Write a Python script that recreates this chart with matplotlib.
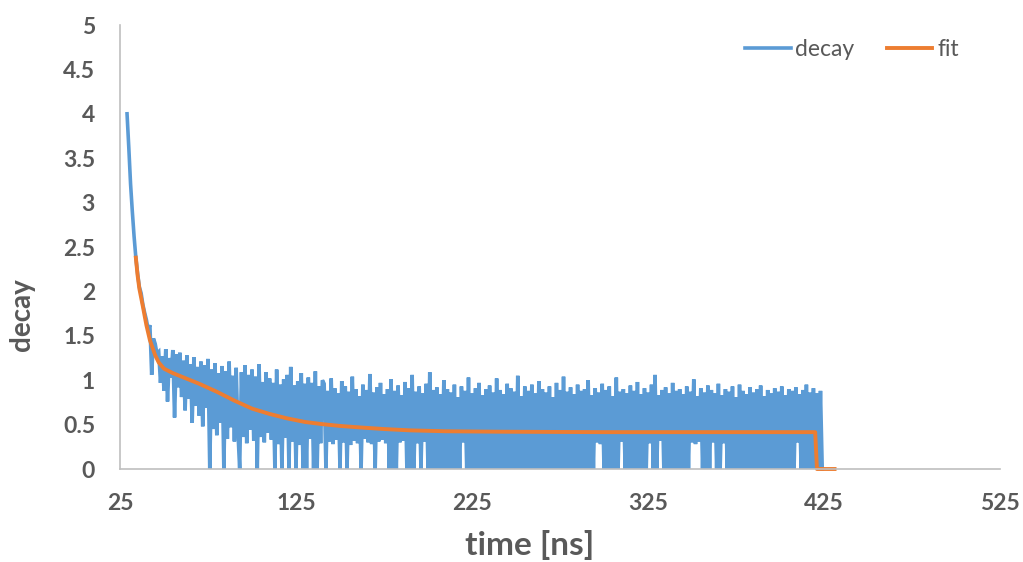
import numpy as np
import matplotlib
matplotlib.use("Agg")
import matplotlib.pyplot as plt

BLUE = "#5B9BD5"
ORANGE = "#ED7D31"
GREY = "#595959"
AXIS_GREY = "#BFBFBF"

# ---------- data ----------

# measured decay, one sample per ns starting at t = 29 ns
decay_start = 29
decay = [
    4.00, 3.62, 3.21, 2.90, 2.62, 2.38,
    2.20, 2.05, 1.98, 1.85, 1.76, 1.68, 1.57, 1.62, 1.06, 1.47, 1.41, 1.30,
    1.32, 0.97, 1.27, 0.88, 1.35, 0.76, 1.25, 1.03, 1.34, 0.58, 1.29, 0.92, 1.31, 0.81,
    1.22, 0.66, 1.28, 0.79, 1.18, 0.52, 1.26, 0.71, 1.15, 0.60, 1.21, 0.48, 1.17, 0.69, 1.24,
    0.00, 1.12, 0.45, 1.19, 0.38, 1.08, 0.52, 1.16, 0.00, 1.10, 0.34, 1.21, 0.47, 1.05, 0.31,
    1.14, 0.42, 0.00, 1.09, 0.36, 1.17, 0.29, 1.06, 0.44, 1.12,
    0.32, 1.04, 0.00, 1.18, 0.36, 0.98, 0.30, 1.09, 0.41, 1.02, 0.33, 0.97, 0.00, 1.12, 0.28, 0.95, 0.00, 1.01, 0.35, 1.06,
    0.00, 1.15, 0.31, 0.94, 0.00, 0.99, 0.27, 1.08, 0.00, 0.96, 0.00, 1.03, 0.34, 0.97, 0.00, 1.10, 0.00, 0.93, 0.29, 1.00,
    0.96, 0.00, 0.88, 0.31, 1.02, 0.28, 0.91, 0.33, 0.85, 0.00, 0.99, 0.30, 0.93, 0.00, 0.87, 0.27, 1.04, 0.32, 0.90, 0.29,
    0.82, 0.00, 0.95, 0.34, 0.89, 0.30, 1.07, 0.28, 0.86, 0.00, 0.92, 0.31, 0.97, 0.33, 0.84, 0.29, 0.90, 0.00, 1.01, 0.00,
    0.88, 0.00, 0.94, 0.30, 0.83, 0.32, 0.98, 0.00, 0.91, 0.00, 1.06, 0.00, 0.87, 0.29, 0.93, 0.00, 0.85, 0.31, 0.96, 0.00,
    1.09, 0.00, 0.89, 0.00, 0.92, 0.00, 0.84, 0.00, 1.00, 0.00, 0.90, 0.00, 0.86, 0.00, 0.95, 0.00, 0.81, 0.00, 0.93, 0.30,
    0.88, 0.00, 1.03, 0.00, 0.85, 0.00, 0.91, 0.00, 0.97, 0.00, 0.83, 0.00, 0.90, 0.00, 0.94, 0.00, 0.86, 0.00, 1.02, 0.00,
    0.89, 0.00, 0.84, 0.00, 0.96, 0.00, 0.91, 0.00, 0.87, 0.00, 1.05, 0.00, 0.82, 0.00, 0.93, 0.00, 0.88, 0.00, 0.95, 0.00,
    0.85, 0.00, 0.99, 0.00, 0.90, 0.00, 0.86, 0.00, 0.93, 0.00, 0.81, 0.00, 0.97, 0.00, 0.89, 0.00, 1.04, 0.00, 0.87, 0.00,
    0.92, 0.00, 0.84, 0.00, 0.95, 0.00, 0.88, 0.00, 0.90, 0.00, 1.00, 0.00, 0.83, 0.00, 0.91, 0.30, 0.86, 0.28, 0.96, 0.00,
    0.89, 0.00, 0.93, 0.00, 0.82, 0.00, 1.03, 0.00, 0.87, 0.31, 0.90, 0.00, 0.85, 0.00, 0.94, 0.00, 0.88, 0.00, 0.98, 0.00,
    0.84, 0.00, 0.91, 0.00, 0.86, 0.29, 0.95, 0.00, 1.06, 0.00, 0.83, 0.32, 0.89, 0.00, 0.92, 0.00, 0.85, 0.00, 0.97, 0.00,
    0.88, 0.00, 0.90, 0.00, 0.84, 0.00, 0.93, 0.00, 0.87, 0.30, 1.01, 0.28, 0.82, 0.31, 0.91, 0.00, 0.86, 0.00, 0.94, 0.00,
    0.89, 0.30, 0.85, 0.00, 0.96, 0.00, 0.83, 0.29, 0.90, 0.00, 0.87, 0.00, 0.93, 0.00, 0.81, 0.00, 0.95, 0.00, 0.88, 0.00,
    0.84, 0.00, 0.92, 0.00, 0.86, 0.00, 0.90, 0.00, 0.94, 0.00, 0.82, 0.00, 0.89, 0.00, 0.85, 0.00, 0.91, 0.00, 0.87, 0.00,
    0.93, 0.00, 0.83, 0.00, 0.90, 0.00, 0.88, 0.00, 0.92, 0.30, 0.84, 0.00, 0.89, 0.00, 0.95, 0.00, 0.86, 0.00, 0.91, 0.00,
    0.85, 0.00, 0.88, 0.00,
]
decay_time = np.arange(decay_start, decay_start + len(decay))

# fitted curve
fit_time = [34, 35, 36, 37, 38, 40, 42, 45, 47, 50, 55, 60, 70, 80, 90, 100, 110, 120,
            130, 140, 150, 160, 175, 190, 210, 240, 300, 360, 420, 421, 431]
fit = [2.38, 2.18, 2.03, 1.93, 1.83, 1.62, 1.45, 1.28, 1.20, 1.13, 1.08, 1.04, 0.96, 0.87,
       0.77, 0.68, 0.62, 0.57, 0.53, 0.505, 0.485, 0.47, 0.45, 0.435, 0.425, 0.42, 0.415,
       0.415, 0.415, 0.0, 0.0]

x_ticks = [25, 125, 225, 325, 425, 525]
y_ticks = [0, 0.5, 1, 1.5, 2, 2.5, 3, 3.5, 4, 4.5, 5]
y_tick_labels = ["0", "0.5", "1", "1.5", "2", "2.5", "3", "3.5", "4", "4.5", "5"]

# ---------- plot ----------

plt.rcParams["font.family"] = ["Lato", "DejaVu Sans"]

fig = plt.figure(figsize=(10.23, 5.62), dpi=100)
ax = fig.add_axes([120 / 1023, 1 - 469 / 562, 880 / 1023, 444 / 562])

ax.plot(decay_time, decay, color=BLUE, lw=2.6, label="decay", clip_on=False,
        solid_joinstyle="miter")
ax.plot(fit_time, fit, color=ORANGE, lw=2.8, label="fit", clip_on=False)

ax.set_xlim(25, 525)
ax.set_ylim(0, 5)
ax.set_xticks(x_ticks)
ax.set_yticks(y_ticks)
ax.set_yticklabels(y_tick_labels)

for lab in ax.get_xticklabels() + ax.get_yticklabels():
    lab.set_fontweight("bold")
    lab.set_fontsize(16.5)
    lab.set_color(GREY)
ax.tick_params(axis="both", length=0)
ax.tick_params(axis="y", pad=18)
ax.tick_params(axis="x", pad=17)

for side in ("top", "right"):
    ax.spines[side].set_visible(False)
for side in ("left", "bottom"):
    ax.spines[side].set_color(AXIS_GREY)
    ax.spines[side].set_linewidth(1.2)

fig.text(22 / 1023, 1 - 315 / 562, "decay", rotation=90, ha="center", va="center",
         fontsize=20, fontweight="bold", color=GREY)
fig.text(530 / 1023, 1 - 545 / 562, "time [ns]", ha="center", va="center",
         fontsize=24, fontweight="bold", color=GREY)

leg = ax.legend(loc="center left", bbox_to_anchor=(745 / 1023, 1 - 50 / 562),
                bbox_transform=fig.transFigure, ncol=2, frameon=False, fontsize=16.5,
                handlelength=2.0, handletextpad=0.2, columnspacing=1.4,
                borderpad=0, borderaxespad=0)
for txt in leg.get_texts():
    txt.set_color(GREY)

fig.savefig("out.png", dpi=100)
